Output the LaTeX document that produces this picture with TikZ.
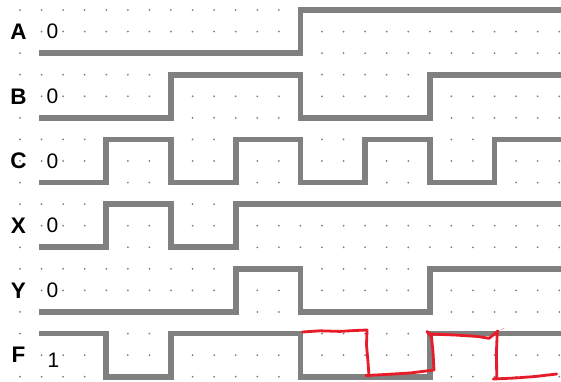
\documentclass[tikz,border=0pt]{standalone}
\usepackage{fontspec}
\setmainfont{Liberation Sans}
\begin{document}
\begin{tikzpicture}[
  wave/.style={draw={rgb,255:red,128;green,128;blue,128}, line width=5.6pt, line cap=rect, line join=miter},
  gdot/.style={fill={rgb,255:red,125;green,125;blue,125}},
  siglabel/.style={font=\fontsize{22.5}{22.5}\selectfont\bfseries, inner sep=0pt, anchor=center},
  vallabel/.style={font=\fontsize{21}{21}\selectfont, inner sep=0pt, anchor=center},
  redmark/.style={draw={rgb,255:red,232;green,28;blue,40}, line width=2.8pt, line cap=round, line join=round}
]
\path[use as bounding box, fill=white] (0pt,0pt) rectangle (561pt,-381pt);
\begin{scope}[shift={(20pt,-10pt)}, x=21.57pt, y=-21.57pt]
  % dot grid
  \foreach \c in {0,...,25}{
    \foreach \r in {0,...,17}{
      \fill[gdot] (\c,\r) circle (1.0pt);
    }
  }
  % waveforms
  \draw[wave] (1,2) -| (13,0) -- (25.6,0);
  \draw[wave] (1,5) -| (7,3) -| (13,5) -| (19,3) -- (25.6,3);
  \draw[wave] (1,8) -| (4,6) -| (7,8) -| (10,6) -| (13,8) -| (16,6) -| (19,8) -| (22,6) -- (25.6,6);
  \draw[wave] (1,11) -| (4,9) -| (7,11) -| (10,9) -- (25.6,9);
  \draw[wave] (1,14) -| (10,12) -| (13,14) -| (19,12) -- (25.6,12);
  \draw[wave] (1,15) -| (4,17) -| (7,15) -| (13,17) -| (19,15) -- (25.6,15);
  % labels
  \node[siglabel] (lA) at (-0.07,1) {A};
  \node[siglabel] (lB) at (-0.07,4) {B};
  \node[siglabel] (lC) at (-0.07,7) {C};
  \node[siglabel] (lX) at (-0.07,10) {X};
  \node[siglabel] (lY) at (-0.07,13) {Y};
  \node[siglabel] (lF) at (-0.07,16) {F};
  \node[vallabel] (vA) at (1.5,1) {0};
  \node[vallabel] (vB) at (1.5,4) {0};
  \node[vallabel] (vC) at (1.5,7) {0};
  \node[vallabel] (vX) at (1.5,10) {0};
  \node[vallabel] (vY) at (1.5,13) {0};
  \node[vallabel] (vF) at (1.55,16.22) {1};
\end{scope}
\begin{scope}[x=1pt, y=-1pt]
  \draw[redmark] (302.5,332) -- (320,330.8) -- (340,331.4) -- (355,330.5) -- (367,330)
     -- (366.5,345) -- (368,362) -- (369,376) -- (366,375.5) -- (385,374.5) -- (410,373) -- (434,370)
     -- (433,352) -- (431.5,337) -- (427,331.5) -- (430,334) -- (455,335) -- (478,336.5) -- (489,338.3) -- (498,331);
  \draw[redmark] (497.3,331.5) -- (496.5,350) -- (496.7,378.3) -- (493.3,379) -- (515,378) -- (535,376.5) -- (556.7,374);
  \draw[redmark, line width=0.6pt, draw opacity=0.6] (501,329.5) -- (504,328.5);
\end{scope}
\end{tikzpicture}
\end{document}
